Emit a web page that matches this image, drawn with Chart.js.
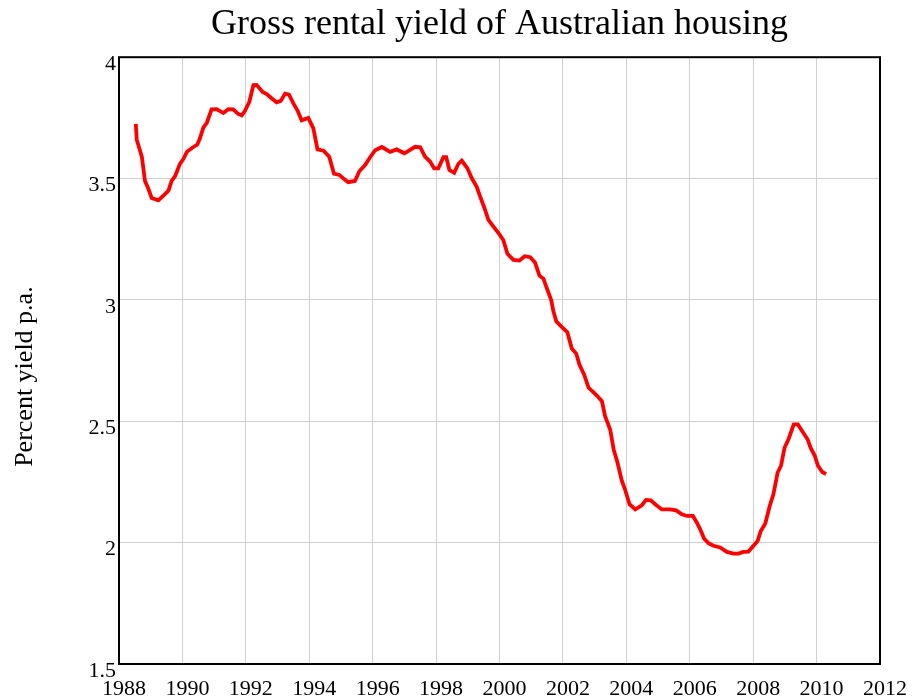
<!DOCTYPE html>
<html>
<head>
<meta charset="utf-8">
<script src="https://cdn.jsdelivr.net/npm/chart.js@4/dist/chart.umd.min.js"></script>
<style>
  html, body { margin: 0; padding: 0; background: #ffffff; }
  #wrap { width: 912px; height: 698px; }
</style>
</head>
<body>
<div id="wrap"><canvas id="c" width="912" height="698"></canvas></div>
<script>
const chartTitle = "Gross rental yield of Australian housing";
const yAxisTitle = "Percent yield p.a.";
const xTickValues = [1988, 1990, 1992, 1994, 1996, 1998, 2000, 2002, 2004, 2006, 2008, 2010, 2012];
const yTickValues = [1.5, 2, 2.5, 3, 3.5, 4];

const years = [
  1988.53, 1988.56, 1988.72, 1988.82, 1988.92, 1989.03, 1989.24, 1989.40, 1989.56, 1989.66,
  1989.77, 1989.92, 1990.03, 1990.14, 1990.29, 1990.47, 1990.55, 1990.66, 1990.77, 1990.92,
  1991.08, 1991.29, 1991.45, 1991.60, 1991.76, 1991.87, 1991.97, 1992.11, 1992.24, 1992.34,
  1992.53, 1992.66, 1992.82, 1992.97, 1993.10, 1993.24, 1993.36, 1993.50, 1993.63, 1993.76,
  1993.97, 1994.13, 1994.26, 1994.45, 1994.63, 1994.78, 1994.95, 1995.08, 1995.23, 1995.44,
  1995.58, 1995.76, 1995.92, 1996.08, 1996.29, 1996.55, 1996.76, 1997.00, 1997.34, 1997.50,
  1997.65, 1997.81, 1997.94, 1998.07, 1998.23, 1998.32, 1998.42, 1998.57, 1998.70, 1998.81,
  1998.99, 1999.13, 1999.28, 1999.39, 1999.51, 1999.65, 1999.81, 1999.97, 2000.12, 2000.25,
  2000.44, 2000.63, 2000.79, 2000.97, 2001.12, 2001.26, 2001.39, 2001.49, 2001.63, 2001.70,
  2001.79, 2001.96, 2002.14, 2002.28, 2002.42, 2002.52, 2002.67, 2002.81, 2002.96, 2003.07,
  2003.23, 2003.33, 2003.49, 2003.60, 2003.72, 2003.86, 2003.96, 2004.10, 2004.28, 2004.49,
  2004.62, 2004.77, 2004.91, 2005.12, 2005.38, 2005.57, 2005.75, 2005.91, 2006.10, 2006.22,
  2006.33, 2006.45, 2006.59, 2006.75, 2006.96, 2007.17, 2007.38, 2007.54, 2007.69, 2007.85,
  2008.01, 2008.14, 2008.24, 2008.38, 2008.52, 2008.64, 2008.77, 2008.88, 2008.99, 2009.12,
  2009.28, 2009.41, 2009.58, 2009.72, 2009.81, 2009.94, 2010.04, 2010.18, 2010.30
];
const yields = [
  3.725, 3.66, 3.59, 3.49, 3.46, 3.42, 3.41, 3.43, 3.45, 3.49,
  3.51, 3.56, 3.58, 3.61, 3.625, 3.64, 3.665, 3.71, 3.73, 3.785,
  3.786, 3.77, 3.786, 3.785, 3.766, 3.76, 3.778, 3.816, 3.885, 3.886,
  3.857, 3.848, 3.83, 3.814, 3.82, 3.85, 3.846, 3.81, 3.78, 3.74,
  3.75, 3.707, 3.62, 3.615, 3.59, 3.52, 3.515, 3.50, 3.485, 3.49,
  3.53, 3.556, 3.588, 3.617, 3.63, 3.61, 3.62, 3.604, 3.631, 3.629,
  3.59, 3.57, 3.542, 3.542, 3.588, 3.588, 3.535, 3.524, 3.56, 3.574,
  3.542, 3.50, 3.467, 3.426, 3.384, 3.33, 3.302, 3.275, 3.247, 3.19,
  3.165, 3.162, 3.18, 3.176, 3.154, 3.10, 3.087, 3.049, 3.00, 2.953,
  2.912, 2.889, 2.867, 2.80, 2.779, 2.734, 2.692, 2.638, 2.62, 2.606,
  2.583, 2.521, 2.466, 2.384, 2.33, 2.254, 2.219, 2.158, 2.137, 2.154,
  2.176, 2.174, 2.158, 2.137, 2.137, 2.133, 2.117, 2.11, 2.11, 2.083,
  2.055, 2.017, 1.998, 1.987, 1.98, 1.962, 1.955, 1.955, 1.962, 1.963,
  1.987, 2.007, 2.048, 2.078, 2.15, 2.20, 2.288, 2.318, 2.391, 2.428,
  2.487, 2.487, 2.453, 2.425, 2.391, 2.359, 2.318, 2.291, 2.282
];

const SERIF = "'Liberation Serif', 'Times New Roman', Times, serif";
Chart.defaults.font.family = SERIF;
Chart.defaults.color = '#000000';

const points = years.map((x, i) => ({ x: x, y: yields[i] }));

const frameAndYTitle = {
  id: 'frameAndYTitle',
  afterDraw(chart) {
    const ctx = chart.ctx;
    const a = chart.chartArea;
    ctx.save();
    ctx.strokeStyle = '#000000';
    ctx.lineWidth = 2;
    ctx.strokeRect(a.left, a.top, a.right - a.left, a.bottom - a.top);
    ctx.restore();
    ctx.save();
    ctx.translate(31.5, (a.top + a.bottom) / 2 + 16);
    ctx.rotate(-Math.PI / 2);
    ctx.font = '26px ' + SERIF;
    ctx.fillStyle = '#000000';
    ctx.textAlign = 'center';
    ctx.textBaseline = 'alphabetic';
    ctx.fillText(yAxisTitle, 0, 0);
    ctx.restore();
  }
};

new Chart(document.getElementById('c'), {
  type: 'line',
  data: {
    datasets: [{
      data: points,
      borderColor: '#ff0000',
      backgroundColor: '#ff0000',
      borderWidth: 3.8,
      pointRadius: 0,
      tension: 0,
      fill: false
    }]
  },
  options: {
    responsive: false,
    animation: false,
    layout: { padding: { left: 0, right: 32, top: 0, bottom: 0 } },
    plugins: {
      legend: { display: false },
      tooltip: { enabled: false },
      title: {
        display: true,
        text: chartTitle,
        fullSize: false,
        color: '#000000',
        font: { size: 36, weight: 'normal', family: SERIF },
        padding: { top: 3, bottom: 11 }
      }
    },
    scales: {
      x: {
        type: 'linear',
        min: 1988,
        max: 2012,
        afterBuildTicks: (s) => { s.ticks = xTickValues.map(v => ({ value: v })); },
        afterFit: (s) => { s.height = 34; s.paddingLeft = 0; s.paddingRight = 0; },
        grid: { color: '#d0d0d0', lineWidth: 1, drawTicks: false },
        border: { display: false },
        ticks: {
          font: { size: 22 },
          color: '#000000',
          padding: 12,
          labelOffset: 5,
          maxRotation: 0,
          autoSkip: false,
          callback: (v) => String(v)
        }
      },
      y: {
        type: 'linear',
        min: 1.5,
        max: 4,
        afterBuildTicks: (s) => { s.ticks = yTickValues.map(v => ({ value: v })); },
        afterFit: (s) => { s.width = 119; s.paddingTop = 0; s.paddingBottom = 0; },
        grid: { color: '#d0d0d0', lineWidth: 1, drawTicks: false },
        border: { display: false },
        ticks: {
          font: { size: 22 },
          color: '#000000',
          padding: 3,
          labelOffset: 7,
          autoSkip: false,
          callback: (v) => String(v)
        }
      }
    }
  },
  plugins: [frameAndYTitle]
});
</script>
</body>
</html>
